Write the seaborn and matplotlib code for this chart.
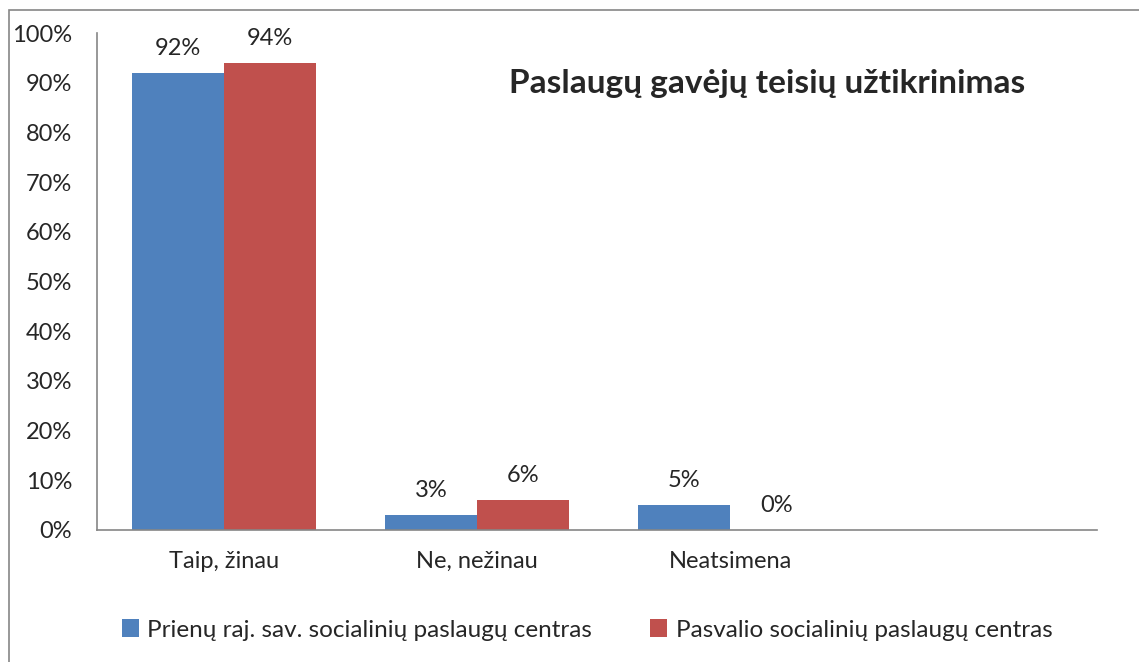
import matplotlib
matplotlib.use("Agg")
import matplotlib.pyplot as plt
import seaborn as sns
import pandas as pd
from matplotlib.patches import Rectangle

categories = ["Taip, žinau", "Ne, nežinau", "Neatsimena"]
series_names = ["Prienų raj. sav. socialinių paslaugų centras",
                "Pasvalio socialinių paslaugų centras"]
prienu = [92, 3, 5]
pasvalio = [94, 6, 0]
yticks = [0, 10, 20, 30, 40, 50, 60, 70, 80, 90, 100]
title = "Paslaugų gavėjų teisių užtikrinimas"
colors = ["#4F81BD", "#C0504D"]

rows = []
for c, a, b in zip(categories, prienu, pasvalio):
    rows.append({"cat": c, "series": series_names[0], "val": a})
    rows.append({"cat": c, "series": series_names[1], "val": b})
df = pd.DataFrame(rows)

sns.set_style("white")
plt.rcParams["font.family"] = ["Lato", "DejaVu Sans"]

fig = plt.figure(figsize=(11.39, 6.62), dpi=100)
ax = fig.add_axes([97/1139, 1-530/662, 1000/1139, 497/662])

sns.barplot(data=df, x="cat", y="val", hue="series", order=categories,
            hue_order=series_names, palette=colors, width=0.727, ax=ax,
            saturation=1, legend=True, edgecolor="none")
ax.set_xlim(-0.502, 3.45)
ax.set_ylim(0, 100)
ax.set_yticks(yticks)
ax.set_yticklabels([f"{v}%" for v in yticks], fontsize=17)
ax.set_xticks(range(len(categories)))
ax.set_xticklabels(categories, fontsize=17)
ax.tick_params(axis="y", length=0, pad=18)
ax.tick_params(axis="x", length=0, pad=15)
ax.set_xlabel("")
ax.set_ylabel("")
for s in ["top", "right"]:
    ax.spines[s].set_visible(False)
for s in ["left", "bottom"]:
    ax.spines[s].set_color("#868686")
    ax.spines[s].set_linewidth(1.2)

for cont in ax.containers:
    labels = [f"{int(round(b.get_height()))}%" for b in cont]
    ax.bar_label(cont, labels=labels, padding=10, fontsize=17)

ax.text(0.928, 0.899, title, transform=ax.transAxes, ha="right", va="center",
        fontsize=24, fontweight="bold")

h, l = ax.get_legend_handles_labels()
ax.legend(h, l, loc="center", bbox_to_anchor=(587/1139, 1-630/662),
          bbox_transform=fig.transFigure, ncol=2, frameon=False, fontsize=17.5,
          handlelength=0.7, handleheight=0.7, handletextpad=0.35,
          columnspacing=2.4)

fig.patches.append(Rectangle((9/1139, -0.01), 1.1, 1-10/662+0.01,
                             transform=fig.transFigure, fill=False,
                             edgecolor="#868686", linewidth=1.2))
fig.savefig("out.png", dpi=100)
